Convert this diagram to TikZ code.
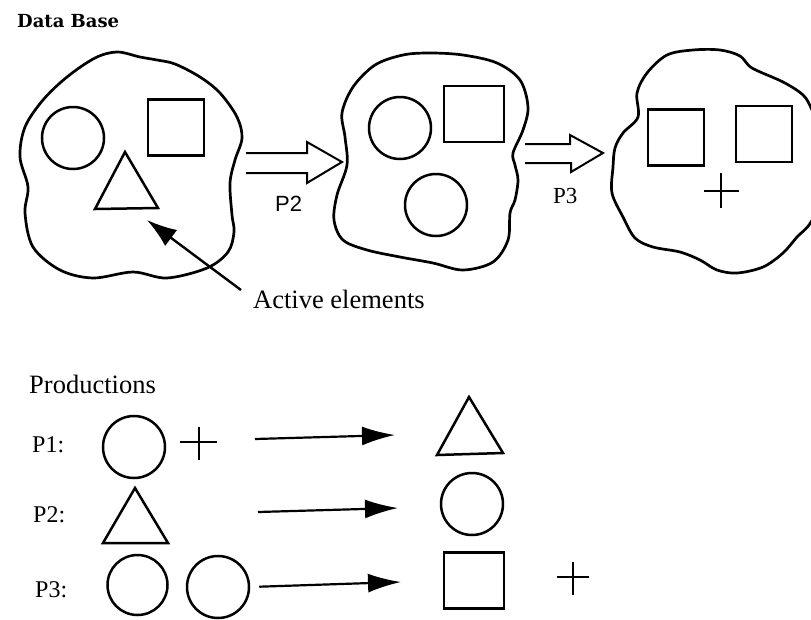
\documentclass[tikz,border=0pt]{standalone}
\usepackage{fontspec}
\setmainfont{Liberation Serif}
\newfontfamily\labelsans{Liberation Sans}
\newfontfamily\titlefont{DejaVu Serif}
\usetikzlibrary{arrows.meta}

\tikzset{
  outline/.style={line width=2.7pt, line join=round},
  circ/.style={circle, draw, line width=2.5pt, minimum size=62pt, inner sep=0pt},
  sq/.style={rectangle, draw, line width=2.7pt, minimum width=56pt, minimum height=56pt, inner sep=0pt},
  tri/.style={draw, line width=2.5pt, line join=miter},
  plus/.style={line width=2.8pt},
  hollow/.style={line width=2pt, line join=miter},
  prodarrow/.style={line width=2.2pt, -{Latex[length=33pt,width=19pt]}},
  txt/.style={inner sep=0pt, anchor=base west},
}

\begin{document}
\begin{tikzpicture}[x=1pt, y=-1pt]
\clip (0,0) rectangle (811,619);
\fill[white] (0,0) rectangle (811,619);

% ---- data base title
\node[txt] (dbtitle) at (17,27) {\fontsize{18}{22}\selectfont\titlefont\bfseries Data Base};

% ---- first state of the data base
\draw[outline] plot[smooth cycle, tension=0.55] coordinates {
  (117,52) (140,57) (157,60) (175,64) (200,77) (220,93) (237,117) (242,138)
  (235,160) (230,183) (232,215) (234,232) (228,252) (207,268) (167,278)
  (133,272) (93,278) (60,270) (33,247) (25,213) (28,187) (20,157) (25,127)
  (43,100) (67,77) (95,58)};
\node[circ] (c1) at (73,138) {};
\node[sq] (s1) at (176,127.5) {};
\draw[tri] (125,152) -- (95,209) -- (158,208) -- cycle;
\coordinate (actip) at (147,220);

% ---- active elements pointer
\node[txt] (ae) at (253,308) {\fontsize{26.5}{30}\selectfont Active elements};
\draw[line width=2.4pt, -{Latex[length=30pt,width=20pt]}, shorten <=15pt] (ae.west) -- (actip);

% ---- step P2
\draw[hollow] (246,153) -- (307,153) -- (307,142) -- (342,162) -- (307,183) -- (307,173) -- (246,173);
\node[txt] (lp2) at (275,211) {\fontsize{22}{26}\selectfont\labelsans P2};

% ---- second state
\draw[outline] plot[smooth cycle, tension=0.55] coordinates {
  (403,55) (430,53) (463,55) (497,63) (520,80) (528,107) (523,130) (513,153)
  (515,165) (518,180) (515,200) (510,213) (508,240) (493,262) (463,270)
  (433,263) (400,257) (367,250) (343,240) (334,220) (337,195) (347,165)
  (345,137) (342,113) (353,87) (375,65)};
\node[circ] (c2a) at (400,128) {};
\node[sq, minimum width=60pt] (s2) at (474,114) {};
\node[circ] (c2b) at (436,205) {};

% ---- step P3
\draw[hollow] (525,144) -- (570,144) -- (570,135) -- (603,153) -- (571,172) -- (571,163) -- (525,163);
\node[txt] (lp3) at (553,203) {\fontsize{23}{27}\selectfont P3};

% ---- third state
\draw[outline] plot[smooth cycle, tension=0.55] coordinates {
  (667,55) (693,50) (720,50) (740,56) (752,68) (783,82) (803,95) (812,110)
  (826,145) (828,185) (811,222) (797,237) (783,253) (763,267) (737,273)
  (717,270) (700,260) (680,252) (653,247) (635,238) (623,217) (612,193)
  (613,167) (615,148) (623,133) (638,117) (637,93) (647,73)};
\node[sq] (s3a) at (676,137.5) {};
\node[sq] (s3b) at (764,134) {};
\draw[plus] (721,173) -- (721,208) (704,191) -- (739,191);

% ---- productions
\node[txt] (prod) at (29,393) {\fontsize{26.5}{30}\selectfont Productions};

% P1
\node[txt] (p1) at (32,452) {\fontsize{24}{28}\selectfont P1:};
\node[circ] (p1c) at (134,447) {};
\draw[plus] (199,427) -- (199,460) (180,442) -- (217,442);
\coordinate (p1from) at (255,439);
\coordinate (p1to) at (395,435);
\draw[prodarrow] (p1from) -- (p1to);
\draw[tri] (469,397) -- (437,455) -- (503,453) -- cycle;

% P2
\node[txt] (p2) at (33,522) {\fontsize{24}{28}\selectfont P2:};
\draw[tri] (135,488) -- (103,543) -- (168,543) -- cycle;
\coordinate (p2from) at (258,512);
\coordinate (p2to) at (398,508);
\draw[prodarrow] (p2from) -- (p2to);
\node[circ] (p2c) at (472,504) {};

% P3
\node[txt] (p3) at (35,597) {\fontsize{24}{28}\selectfont P3:};
\node[circ, minimum size=60pt] (p3c1) at (137.5,585) {};
\node[circ] (p3c2) at (218,587) {};
\coordinate (p3to) at (401,582);
\draw[prodarrow, shorten <=9pt] (p3c2.east) -- (p3to);
\node[sq, minimum width=60pt] (p3s) at (474,580.5) {};
\draw[plus] (573,562) -- (573,595) (557,577) -- (589,577);

\end{tikzpicture}
\end{document}
